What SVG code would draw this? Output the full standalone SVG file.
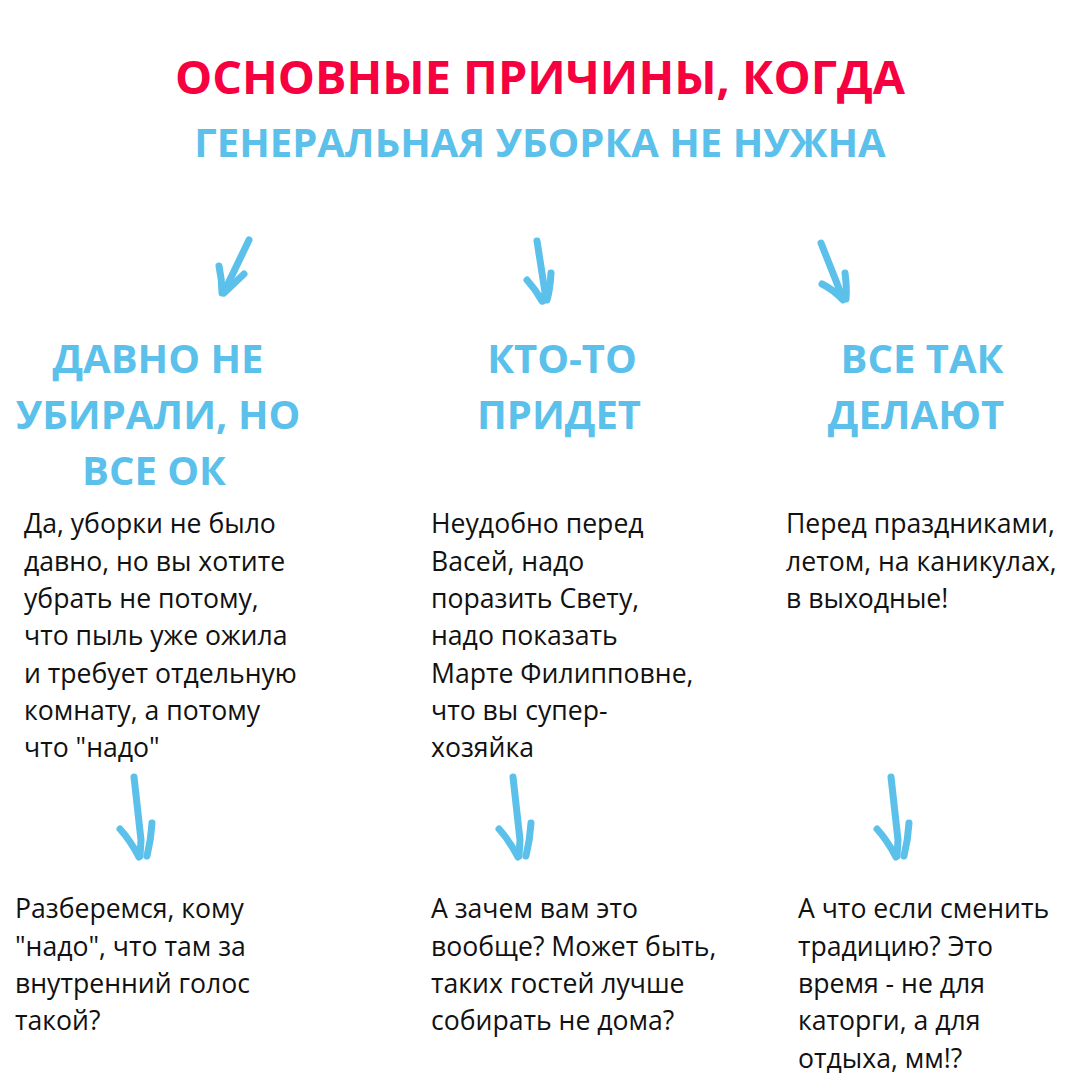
<svg xmlns="http://www.w3.org/2000/svg" width="1080" height="1080" viewBox="0 0 1080 1080">
<style>
.t1{font-family:"Open Sans","Liberation Sans",sans-serif;font-weight:700;fill:#f7003f;font-size:46.8px;text-anchor:middle}
.t2{font-family:"Open Sans","Liberation Sans",sans-serif;font-weight:700;fill:#5bc0ea;font-size:40px;text-anchor:middle}
.h{font-family:"Open Sans","Liberation Sans",sans-serif;font-weight:700;fill:#5bc0ea;font-size:40px;text-anchor:middle}
.b{font-family:"Open Sans","Liberation Sans",sans-serif;font-weight:400;fill:#111;font-size:26.6px}
.a path{fill:none;stroke:#5bc0ea;stroke-width:7;stroke-linecap:round;stroke-linejoin:round}
</style>
<rect width="1080" height="1080" fill="#fff"/>
<g id="title">
<text class="t1" x="540" y="94">ОСНОВНЫЕ ПРИЧИНЫ, КОГДА</text>
<text class="t2" x="540" y="157">ГЕНЕРАЛЬНАЯ УБОРКА НЕ НУЖНА</text>
</g>
<g id="connectors" class="a">
<g id="arrow-top-1"><path d="M249,240 L224,292"/><path d="M219,266 Q222,280 222,293"/><path d="M244,274 L224,293"/></g>
<g id="arrow-top-2"><path d="M537,241 L545,292 L543,301"/><path d="M527,280 Q536,290 542,301"/><path d="M551,273 Q550,290 547,300"/></g>
<g id="arrow-top-3"><path d="M821,243 L842,296"/><path d="M822,284 Q834,290 843,300"/><path d="M845,273 Q847,288 846,299"/></g>
<g id="arrow-bot-1"><path d="M134,777 L141,840 L140,856"/><path d="M120,829 Q130,840 139,857"/><path d="M152,823 Q151,840 147,856"/></g>
<g id="arrow-bot-2" transform="translate(379,0)"><path d="M134,777 L141,840 L140,856"/><path d="M120,829 Q130,840 139,857"/><path d="M152,823 Q151,840 147,856"/></g>
<g id="arrow-bot-3" transform="translate(757,0)"><path d="M134,777 L141,840 L140,856"/><path d="M120,829 Q130,840 139,857"/><path d="M152,823 Q151,840 147,856"/></g>
</g>
<g id="col1-head">
<text class="h" x="158" y="373">ДАВНО НЕ</text>
<text class="h" x="158" y="429">УБИРАЛИ, НО</text>
<text class="h" x="154" y="485">ВСЕ ОК</text>
</g>
<g id="col2-head">
<text class="h" x="562" y="373">КТО-ТО</text>
<text class="h" x="559" y="429">ПРИДЕТ</text>
</g>
<g id="col3-head">
<text class="h" x="922" y="373">ВСЕ ТАК</text>
<text class="h" x="916" y="429">ДЕЛАЮТ</text>
</g>
<g id="col1-text">
<text class="b" x="24" y="533">Да, уборки не было</text>
<text class="b" x="24" y="570.5">давно, но вы хотите</text>
<text class="b" x="24" y="608">убрать не потому,</text>
<text class="b" x="24" y="645">что пыль уже ожила</text>
<text class="b" x="24" y="682.5">и требует отдельную</text>
<text class="b" x="24" y="720">комнату, а потому</text>
<text class="b" x="24" y="757">что "надо"</text>
</g>
<g id="col2-text">
<text class="b" x="431" y="533">Неудобно перед</text>
<text class="b" x="431" y="570.5">Васей, надо</text>
<text class="b" x="431" y="608">поразить Свету,</text>
<text class="b" x="431" y="645">надо показать</text>
<text class="b" x="431" y="682.5">Марте Филипповне,</text>
<text class="b" x="431" y="720">что вы супер-</text>
<text class="b" x="431" y="757">хозяйка</text>
</g>
<g id="col3-text">
<text class="b" x="786" y="533">Перед праздниками,</text>
<text class="b" x="786" y="570.5">летом, на каникулах,</text>
<text class="b" x="786" y="608">в выходные!</text>
</g>
<g id="col1-bottom">
<text class="b" x="15" y="918">Разберемся, кому</text>
<text class="b" x="15" y="955.5">"надо", что там за</text>
<text class="b" x="15" y="993">внутренний голос</text>
<text class="b" x="15" y="1030">такой?</text>
</g>
<g id="col2-bottom">
<text class="b" x="431" y="918">А зачем вам это</text>
<text class="b" x="431" y="955.5">вообще? Может быть,</text>
<text class="b" x="431" y="993">таких гостей лучше</text>
<text class="b" x="431" y="1030">собирать не дома?</text>
</g>
<g id="col3-bottom">
<text class="b" x="798" y="918">А что если сменить</text>
<text class="b" x="798" y="955.5">традицию? Это</text>
<text class="b" x="798" y="993">время - не для</text>
<text class="b" x="798" y="1030">каторги, а для</text>
<text class="b" x="798" y="1068">отдыха, мм!?</text>
</g>
</svg>
